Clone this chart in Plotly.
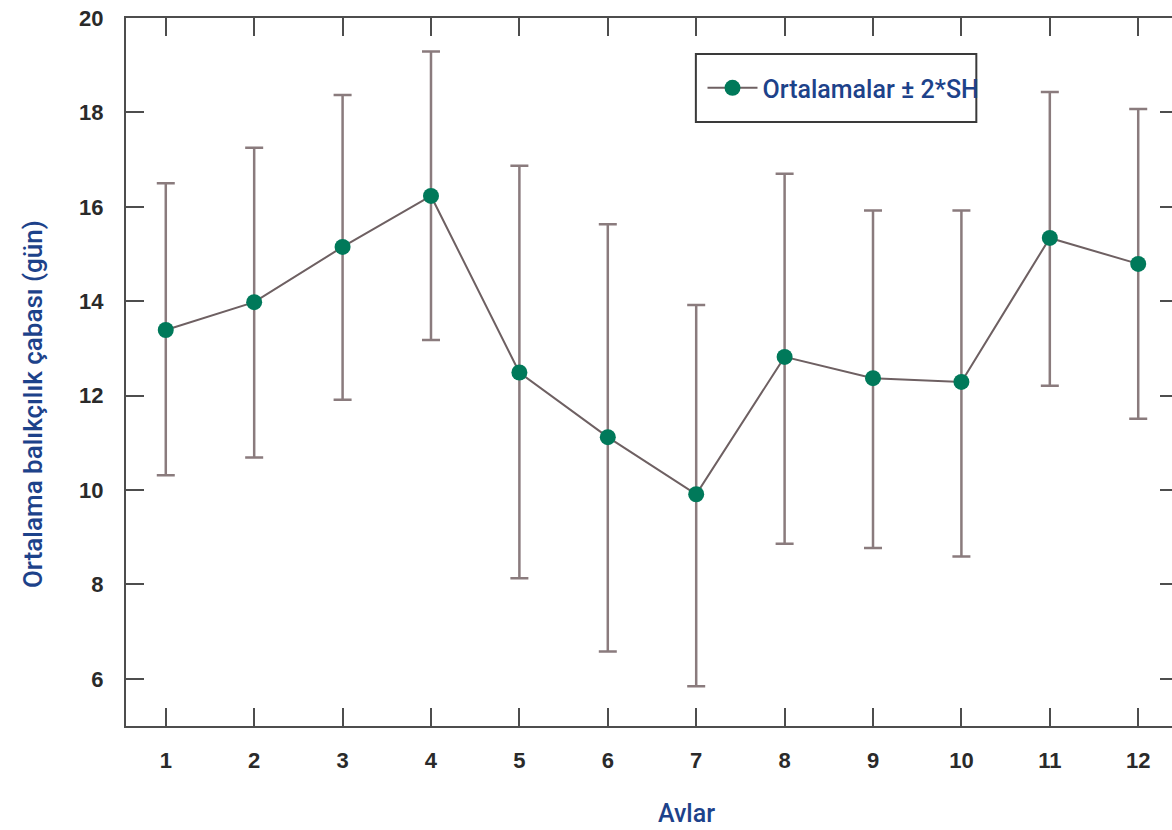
import plotly.graph_objects as go

months = [1, 2, 3, 4, 5, 6, 7, 8, 9, 10, 11, 12]
mean_effort = [13.39, 13.98, 15.15, 16.23, 12.49, 11.12, 9.91, 12.82, 12.37, 12.29, 15.34, 14.79]
upper = [16.50, 17.25, 18.37, 19.29, 16.87, 15.63, 13.92, 16.70, 15.92, 15.92, 18.43, 18.07]
lower = [10.31, 10.69, 11.91, 13.18, 8.13, 6.58, 5.84, 8.86, 8.77, 8.59, 12.21, 11.51]
y_ticks = [6, 8, 10, 12, 14, 16, 18, 20]
x_title = "Avlar"
y_title = "Ortalama balıkçılık çabası (gün)"

err_plus = [u - m for u, m in zip(upper, mean_effort)]
err_minus = [m - l for m, l in zip(mean_effort, lower)]

BLUE = "#1d428a"
AXIS = "#4d4d4d"

fig = go.Figure()
fig.add_trace(go.Scatter(
    x=months, y=mean_effort, mode="lines+markers",
    name="Ortalamalar ± 2*SH",
    line=dict(color="#6e6062", width=2),
    marker=dict(color="#00795a", size=16, line=dict(width=0)),
    error_y=dict(type="data", symmetric=False, array=err_plus, arrayminus=err_minus,
                 color="#8a7b7d", thickness=2.5, width=9),
))

# legend frame (drawn as a shape so that its size matches the original)
fig.add_shape(type="rect", xref="paper", yref="paper",
              x0=0.5417, x1=0.8083, y0=0.853, y1=0.949,
              line=dict(color="#3a3a3a", width=2), fillcolor="white", layer="below")

# axis titles (placed off-centre like the original)
fig.add_annotation(text=y_title, xref="paper", yref="paper", x=-0.0882, y=0.455,
                   xanchor="center", yanchor="middle", textangle=-90, showarrow=False,
                   font=dict(family="Roboto", size=26, color=BLUE, weight=500))
fig.add_annotation(text=x_title, xref="paper", yref="paper", x=0.533, y=-0.124,
                   xanchor="center", yanchor="middle", showarrow=False,
                   font=dict(family="Roboto", size=25, color=BLUE, weight=500))

fig.update_layout(
    width=1182, height=830, autosize=False,
    paper_bgcolor="white", plot_bgcolor="white",
    margin=dict(l=126, r=2, t=18, b=104),
    showlegend=True,
    legend=dict(x=0.548, y=0.901, xanchor="left", yanchor="middle", itemwidth=50,
                bgcolor="rgba(0,0,0,0)", borderwidth=0,
                font=dict(family="Roboto", size=25, color=BLUE, weight=500)),
    xaxis=dict(range=[0.55, 12.45], tickvals=months, ticks="inside", ticklen=18, tickwidth=2,
               tickcolor=AXIS, showline=True, linecolor=AXIS, linewidth=2, mirror="ticks",
               showgrid=False, zeroline=False, ticklabelstandoff=14,
               tickfont=dict(family="Liberation Sans", size=22, color="#2a2a2a", weight="bold")),
    yaxis=dict(range=[5, 20], tickvals=y_ticks, ticks="inside", ticklen=18, tickwidth=2,
               tickcolor=AXIS, showline=True, linecolor=AXIS, linewidth=2, mirror="ticks",
               showgrid=False, zeroline=False, ticklabelstandoff=16,
               tickfont=dict(family="Liberation Sans", size=22, color="#2a2a2a", weight="bold")),
)

fig.write_html("out.html", config={"displayModeBar": False},
               post_script="document.body.style.margin='0';document.body.style.overflow='hidden';")
